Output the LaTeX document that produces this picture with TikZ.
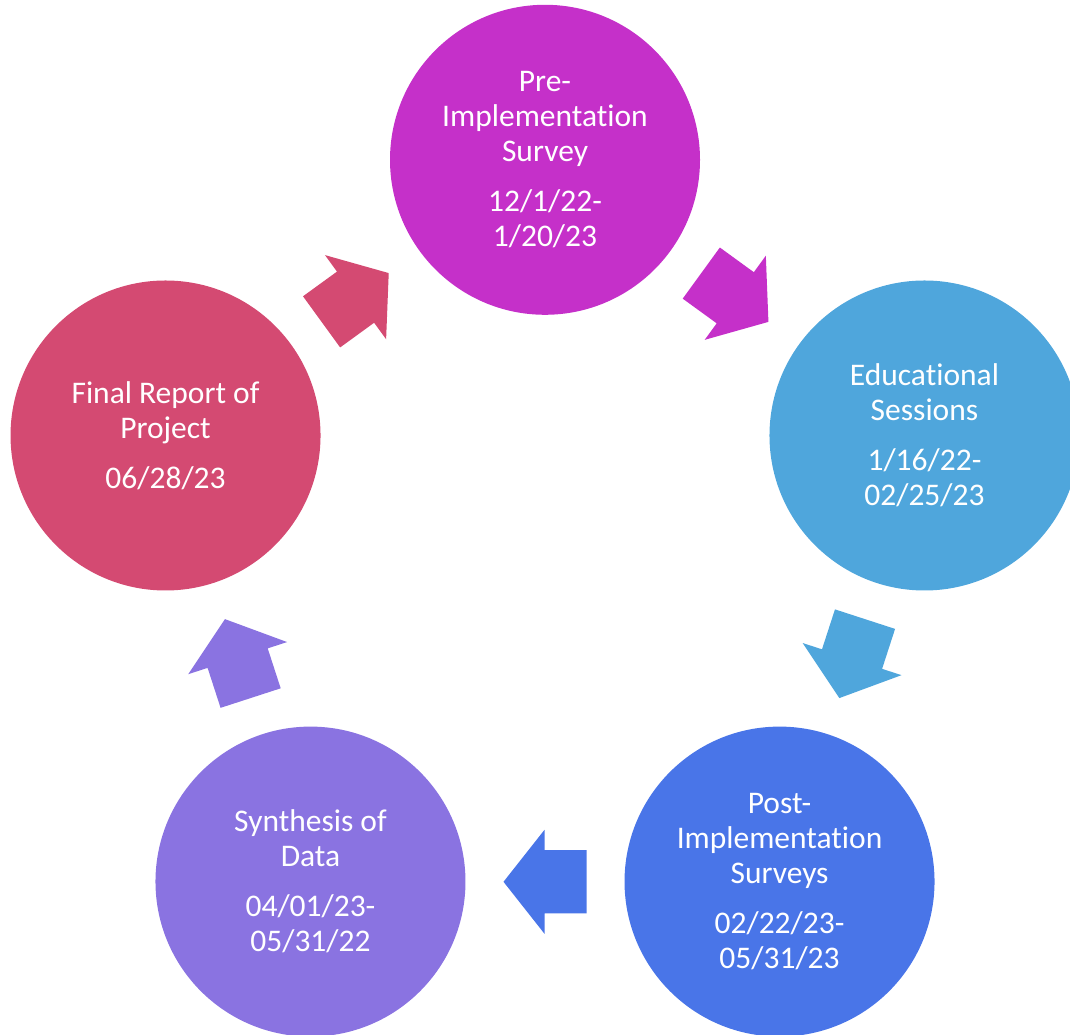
\documentclass[tikz,border=0pt]{standalone}
\usepackage{fontspec}
\setmainfont{Carlito}[Ligatures={NoCommon,NoContextual}]
\usetikzlibrary{calc}
\definecolor{cmag}{HTML}{C530C9}
\definecolor{clblue}{HTML}{4FA6DC}
\definecolor{croyal}{HTML}{4975E8}
\definecolor{cpurple}{HTML}{8A73E1}
\definecolor{ccrim}{HTML}{D44A72}
\newcommand{\nolig}{\kern0pt }
\begin{document}
\begin{tikzpicture}[x=1pt,y=1pt,
  stage/.style={circle, fill=#1, minimum size=310pt, inner sep=0pt, text=white,
    align=center, font=\fontsize{31.5}{35}\selectfont},
  blockarrow/.style={fill=#1}]
\clip (0,0) rectangle (1070,1035);
\coordinate (C) at (545,476.2);
\node[stage=cmag] (pre) at ($(C)+(90:399)$)
  {Pre-\\Implementat\nolig ion\\Survey\\[15pt]12/1/22-\\1/20/23};
\node[stage=clblue] (edu) at ($(C)+(18:399)$)
  {Educat\nolig ional\\Sessions\\[15pt]1/16/22-\\02/25/23};
\node[stage=croyal] (post) at ($(C)+(-54:399)$)
  {Post-\\Implementat\nolig ion\\Surveys\\[15pt]02/22/23-\\05/31/23};
\node[stage=cpurple] (syn) at ($(C)+(-126:399)$)
  {Synthesis of\\Data\\[15pt]04/01/23-\\05/31/22};
\node[stage=ccrim] (fin) at ($(C)+(162:399)$)
  {Final Report of\\Project\\[15pt]06/28/23};
\foreach \a/\col in {54/cmag, -18/clblue, -90/croyal, -162/cpurple, 126/ccrim}
  \fill[blockarrow=\col, shift={(C)}, rotate=\a, xshift=323pt, rotate=-90]
    (-41.5,-31.6) -- (0.5,-31.6) -- (0.5,-52) -- (41.5,0) -- (0.5,52)
    -- (0.5,31.6) -- (-41.5,31.6) -- cycle;
\end{tikzpicture}
\end{document}
